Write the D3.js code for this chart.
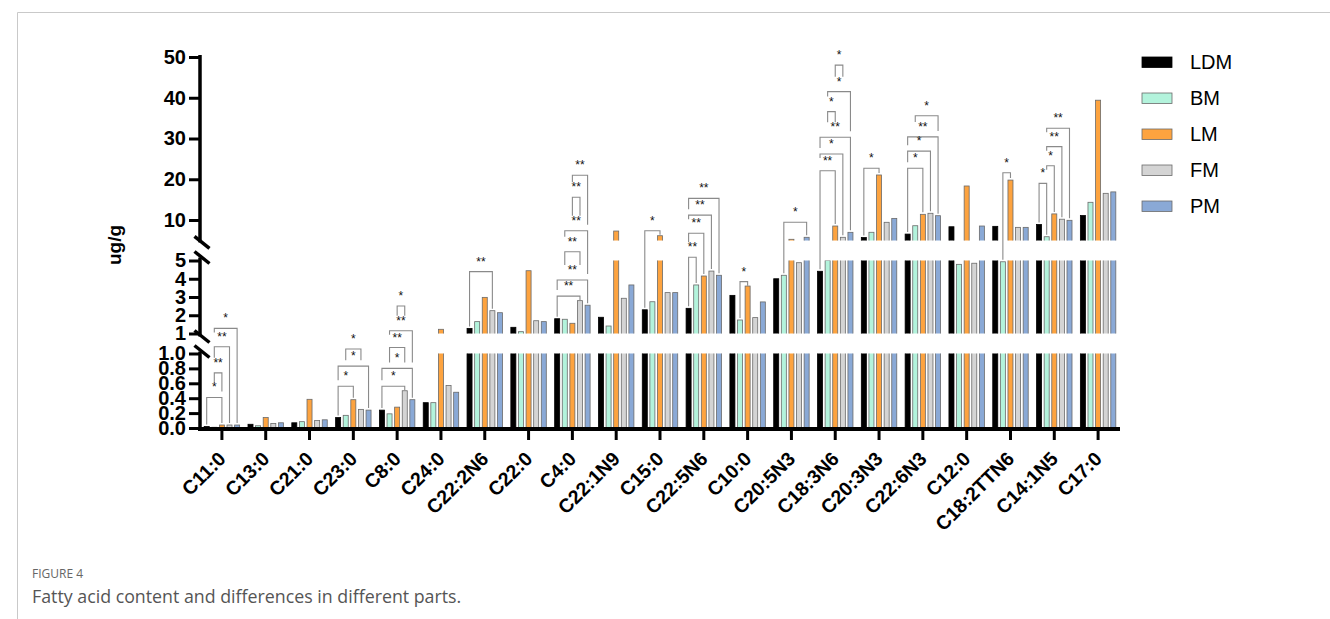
<!DOCTYPE html>
<html>
<head>
<meta charset="utf-8">
<script src="https://cdn.jsdelivr.net/npm/d3@7"></script>
<style>
  body { margin: 0; background: #fff; }
  svg text { font-family: Arial, "Liberation Sans", sans-serif; }
</style>
</head>
<body>
<svg id="chart" width="1330" height="619"></svg>
<script>
const categories = ["C11:0","C13:0","C21:0","C23:0","C8:0","C24:0","C22:2N6","C22:0","C4:0","C22:1N9",
  "C15:0","C22:5N6","C10:0","C20:5N3","C18:3N6","C20:3N3","C22:6N3","C12:0","C18:2TTN6","C14:1N5","C17:0"];
const series = ["LDM","BM","LM","FM","PM"];

// ug/g, one value per category
const LDM = [0.02,0.05,0.07,0.14,0.24,0.34,1.28,1.34,1.81,1.89,2.30,2.38,3.09,4.00,4.41,5.70,6.55,8.35,8.45,8.90,11.1];
const BM  = [0.01,0.03,0.085,0.17,0.19,0.34,1.65,1.10,1.78,1.41,2.74,3.66,1.74,4.19,5.00,6.99,8.60,4.79,4.93,5.90,14.35];
const LM  = [0.04,0.14,0.385,0.38,0.28,1.23,2.98,4.44,1.56,7.30,6.15,4.15,3.60,5.27,8.53,21.05,11.4,18.35,19.8,11.5,39.4];
const FM  = [0.04,0.06,0.10,0.25,0.50,0.57,2.25,1.70,2.80,2.93,3.24,4.42,1.87,4.88,5.76,9.44,11.65,4.85,8.20,10.2,16.55];
const PM  = [0.04,0.07,0.11,0.24,0.38,0.48,2.14,1.65,2.55,3.66,3.24,4.19,2.73,5.76,6.98,10.4,11.06,8.53,8.20,9.93,16.9];

const yTicksLow = [0, 0.2, 0.4, 0.6, 0.8, 1.0];
const yTicksMid = [1, 2, 3, 4, 5];
const yTicksTop = [10, 20, 30, 40, 50];

// significance: [category, from bar, to bar, bracket level (ug/g), stars, axis part it is read on when it sits in a break]
const brackets = [
  ["C11:0", 0, 2, 0.41, "*"],
  ["C11:0", 1, 2, 0.74, "**"],
  ["C11:0", 1, 3, 1.09, "**", 0],
  ["C11:0", 1, 4, 1.28, "*"],
  ["C23:0", 0, 2, 0.56, "*"],
  ["C23:0", 0, 4, 0.83, "*"],
  ["C23:0", 1, 3, 1.06, "*", 0],
  ["C8:0", 0, 3, 0.56, "*"],
  ["C8:0", 0, 4, 0.80, "*"],
  ["C8:0", 1, 3, 1.08, "**", 0],
  ["C8:0", 1, 4, 1.15, "**"],
  ["C8:0", 2, 3, 2.51, "*"],
  ["C22:2N6", 0, 3, 4.39, "**"],
  ["C4:0", 0, 3, 3.05, "**"],
  ["C4:0", 0, 4, 3.93, "**"],
  ["C4:0", 1, 3, 5.48, "**", 1],
  ["C4:0", 1, 4, 7.38, "**"],
  ["C4:0", 2, 3, 15.6, "**"],
  ["C4:0", 2, 4, 21.0, "**"],
  ["C15:0", 0, 2, 7.38, "*"],
  ["C22:5N6", 0, 1, 5.18, "**", 1],
  ["C22:5N6", 0, 2, 6.74, "**"],
  ["C22:5N6", 0, 3, 11.2, "**"],
  ["C22:5N6", 0, 4, 15.3, "**"],
  ["C10:0", 1, 2, 3.84, "*"],
  ["C20:5N3", 1, 4, 9.44, "*"],
  ["C18:3N6", 0, 2, 22.1, "**"],
  ["C18:3N6", 0, 3, 26.2, "*"],
  ["C18:3N6", 0, 4, 30.3, "**"],
  ["C18:3N6", 1, 2, 36.6, "*"],
  ["C18:3N6", 1, 4, 41.5, "*"],
  ["C18:3N6", 2, 3, 48.0, "*"],
  ["C20:3N3", 0, 2, 22.7, "*"],
  ["C22:6N3", 0, 2, 22.7, "*"],
  ["C22:6N3", 0, 3, 26.9, "*"],
  ["C22:6N3", 0, 4, 30.4, "**"],
  ["C22:6N3", 1, 4, 35.6, "*"],
  ["C18:2TTN6", 1, 2, 21.6, "*"],
  ["C14:1N5", 0, 1, 19.0, "*"],
  ["C14:1N5", 1, 2, 23.3, "*"],
  ["C14:1N5", 1, 3, 28.0, "**"],
  ["C14:1N5", 1, 4, 32.5, "**"]
];

const values = { LDM, BM, LM, FM, PM };
const colors = { LDM: "#000000", BM: "#b3f3dc", LM: "#fda33f", FM: "#d4d4d4", PM: "#8aa9d6" };

const svg = d3.select("#chart");

// frame of the figure panel
svg.append("path").attr("d", "M17.5,619V12.5H1330")
  .attr("fill", "none").attr("stroke", "#c9c9c9").attr("stroke-width", 1);

const x0 = d3.scaleBand().domain(categories).range([200, 1120]);
const x1 = d3.scaleBand().domain(series).range([0, x0.bandwidth()])
  .paddingInner(0.34).paddingOuter(0.55);

// broken y axis: three parts
const parts = [
  { y: d3.scaleLinear().domain([0, 1]).range([428, 353.5]), ticks: yTicksLow, fmt: d3.format(".1f") },
  { y: d3.scaleLinear().domain([1, 5]).range([333.5, 260.5]), ticks: yTicksMid, fmt: d3.format("d") },
  { y: d3.scaleLinear().domain([5, 50]).range([240.4, 57]), ticks: yTicksTop, fmt: d3.format("d") }
];
const partOf = v => v <= 1 ? 0 : v <= 5 ? 1 : 2;
const valueY = (v, p) => parts[p === undefined ? partOf(v) : p].y(v);
const barX = (cat, s) => x0(cat) + x1(series[s]) + x1.bandwidth() / 2;

// bars, drawn once per axis part and clipped to it
const defs = svg.append("defs");
parts.forEach((p, i) => {
  const [lo, hi] = p.y.domain();
  defs.append("clipPath").attr("id", "clip" + i).append("rect")
    .attr("x", 195).attr("width", 930)
    .attr("y", i === 2 ? 0 : p.y(hi))
    .attr("height", p.y(lo) - (i === 2 ? 0 : p.y(hi)));

  const g = svg.append("g").attr("clip-path", `url(#clip${i})`);
  series.forEach(s => {
    g.selectAll(null)
      .data(values[s].map((v, k) => ({ cat: categories[k], v })).filter(d => d.v > lo))
      .join("rect")
        .attr("x", d => x0(d.cat) + x1(s))
        .attr("width", x1.bandwidth())
        .attr("y", d => p.y(d.v))
        .attr("height", d => p.y(lo) - p.y(d.v) + (i === 0 ? 0 : 4))
        .attr("fill", colors[s])
        .attr("stroke", s === "LDM" ? "#000" : "#6a6a6a")
        .attr("stroke-width", 0.8);
  });
});

// y axis pieces
parts.forEach(p => {
  const ax = svg.append("g").attr("transform", "translate(200,0)")
    .call(d3.axisLeft(p.y).tickValues(p.ticks).tickFormat(p.fmt).tickSize(11).tickSizeOuter(0).tickPadding(3));
  ax.select(".domain").remove();
  ax.selectAll(".tick line").attr("stroke-width", 3);
  ax.selectAll(".tick text").attr("font-size", 20).attr("font-weight", "bold")
    .attr("font-family", "Arial, 'Liberation Sans', sans-serif").attr("fill", "#000");
});

const breaks = [parts[2].y(5) + 2, parts[1].y(5) - 3, parts[1].y(1) + 3, parts[0].y(1) - 2];
const axisRuns = [[55, breaks[0]], [breaks[1], breaks[2]], [breaks[3], 430]];
svg.append("g").selectAll("line").data(axisRuns).join("line")
  .attr("x1", 200).attr("x2", 200).attr("y1", d => d[0]).attr("y2", d => d[1])
  .attr("stroke", "#000").attr("stroke-width", 3.5);
svg.append("g").selectAll("line").data(breaks).join("line")
  .attr("x1", 194.5).attr("x2", 209.5).attr("y1", d => d - 6).attr("y2", d => d + 6)
  .attr("stroke", "#000").attr("stroke-width", 3.5);

// x axis
const xa = svg.append("g").attr("transform", "translate(0,429)")
  .call(d3.axisBottom(x0).tickSize(11).tickSizeOuter(0));
xa.select(".domain").attr("d", "M198,0H1120").attr("stroke-width", 4);
xa.selectAll(".tick line").attr("stroke-width", 3);
xa.selectAll(".tick text")
  .attr("y", 0).attr("dy", null).attr("x", 0)
  .attr("transform", "translate(5,31) rotate(-45)")
  .attr("text-anchor", "end")
  .attr("font-size", 19.5).attr("font-weight", "bold")
  .attr("font-family", "Arial, 'Liberation Sans', sans-serif").attr("fill", "#000");

// y title
svg.append("text").attr("transform", "translate(121,245) rotate(-90)")
  .attr("text-anchor", "middle").attr("font-size", 19).attr("font-weight", "bold")
  .text("ug/g");

// significance brackets
const br = brackets.map(([cat, a, b, level, label, part]) => {
  const y = valueY(level, part);
  const xa = barX(cat, a), xb = barX(cat, b);
  return { cat, a, b, y, xa, xb, label, cx: (xa + xb) / 2, lw: label.length * 4.7 };
});
function legEnd(d, x, s) {
  let end = valueY(values[series[s]][categories.indexOf(d.cat)]) - 2;
  br.forEach(o => {
    if (o === d || o.cat !== d.cat || o.y <= d.y) return;
    if (x >= o.xa - 0.5 && x <= o.xb + 0.5) end = Math.min(end, o.y - 6);
    if (Math.abs(x - o.cx) <= o.lw / 2 + 3) end = Math.min(end, o.y - 15);
  });
  return Math.max(end, d.y + 4);
}
const bg = svg.append("g");
bg.selectAll("path").data(br).join("path")
  .attr("d", d => `M${d.xa},${legEnd(d, d.xa, d.a)}V${d.y}H${d.xb}V${legEnd(d, d.xb, d.b)}`)
  .attr("fill", "none").attr("stroke", "#8a8a8a").attr("stroke-width", 1.1);
bg.selectAll("text").data(br).join("text")
  .attr("x", d => d.cx).attr("y", d => d.y - 6)
  .attr("text-anchor", "middle").attr("font-size", 12).attr("fill", "#111")
  .text(d => d.label);

// legend
const lg = svg.append("g").selectAll("g").data(series).join("g")
  .attr("transform", (d, i) => `translate(1142,${62 + i * 36})`);
lg.append("rect").attr("x", 0).attr("y", -5).attr("width", 30).attr("height", 10.5)
  .attr("fill", d => colors[d]).attr("stroke", d => d === "LDM" ? "#000" : "#6a6a6a").attr("stroke-width", 0.8);
lg.append("text").attr("x", 48).attr("y", 7).attr("font-size", 20).attr("fill", "#000").text(d => d);

// caption
svg.append("text").attr("x", 32).attr("y", 578).attr("font-size", 12)
  .style("font-family", "'Open Sans', sans-serif").attr("fill", "#666").text("FIGURE 4");
svg.append("text").attr("x", 32).attr("y", 603).attr("font-size", 17.8)
  .style("font-family", "'Open Sans', sans-serif").attr("fill", "#555")
  .text("Fatty acid content and differences in different parts.");
</script>
</body>
</html>
